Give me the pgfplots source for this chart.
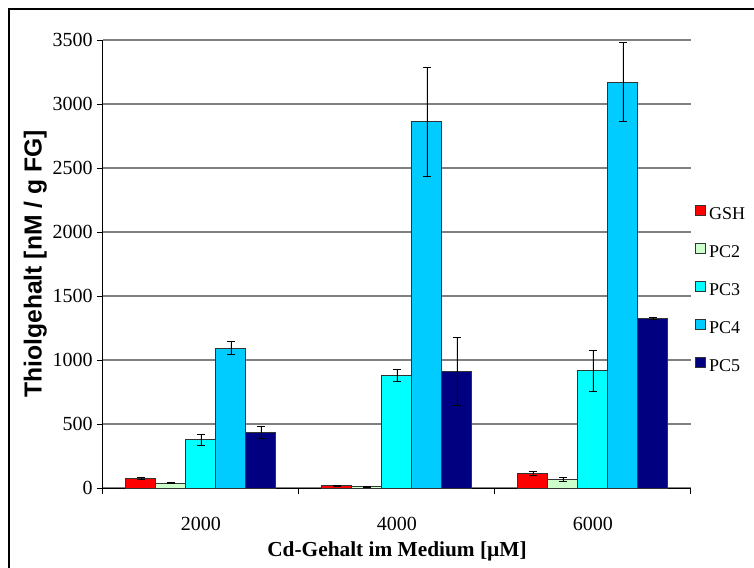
\documentclass[border=0pt]{standalone}
\usepackage{pgfplots}
\pgfplotsset{compat=1.18}
\usepackage{fontspec}
\setmainfont{Liberation Serif}
\setsansfont{Liberation Sans}
\definecolor{cGSH}{RGB}{255,0,0}
\definecolor{cPCa}{RGB}{204,255,204}
\definecolor{cPCb}{RGB}{0,255,255}
\definecolor{cPCc}{RGB}{0,204,255}
\definecolor{cPCd}{RGB}{0,0,128}
\begin{document}
\begin{tikzpicture}
\useasboundingbox (-77.25pt,-60pt) rectangle (488.25pt,366pt);
\fill[white] (-77.25pt,-60pt) rectangle (488.25pt,366pt);
\draw[black, line width=1.4pt] (-70.5pt,359.25pt) rectangle (520pt,-90pt);
\begin{axis}[
  at={(0pt,0pt)}, anchor=south west,
  scale only axis, width=441pt, height=336pt,
  ybar=0pt, bar width=22.5pt,
  xmin=-0.5, xmax=2.5, ymin=0, ymax=3500,
  ytick={0,500,...,3500},
  xtick={-0.5,0.5,1.5,2.5}, xticklabels={},
  extra x ticks={0,1,2}, extra x tick labels={2000,4000,6000},
  extra x tick style={major tick length=0pt, xticklabel style={anchor=center, yshift=-27pt}},
  axis x line*=bottom, axis y line*=left,
  axis line style={black, line width=0.75pt},
  tick align=outside, major tick length=4.5pt,
  tick style={black, line width=0.75pt},
  ymajorgrids=true,
  grid style={draw=gray, line width=0.8pt},
  /pgf/number format/assume math mode=true,
  /pgf/number format/1000 sep={},
  tick label style={font=\fontsize{15}{18}\selectfont},
  yticklabel style={anchor=east, inner sep=0pt, xshift=-3pt},
  xticklabel style={inner sep=0pt},
  xlabel={\bfseries Cd-Gehalt im Medium [µM]},
  xlabel style={at={(axis description cs:0.5,-0.1405)}, anchor=center, font=\fontsize{16}{19}\selectfont, inner sep=0pt},
  ylabel={\sffamily\bfseries Thiolgehalt [nM / g FG]},
  ylabel style={at={(axis description cs:-0.1150,0.5)}, anchor=center, font=\fontsize{18.5}{22}\selectfont, inner sep=0pt},
  legend style={at={(axis description cs:1.0068,0.6317)}, anchor=north west, draw=none, fill=none,
    inner sep=0pt, row sep=15pt, font=\fontsize{13.5}{16}\selectfont,
    nodes={inner sep=0pt, text height=9pt, text depth=3pt},
    /tikz/every odd column/.append style={column sep=2.25pt}},
  legend cell align=left,
  legend image code/.code={\draw[#1, line width=0.6pt] (0pt,-0.3pt) rectangle (7.5pt,7.2pt);},
  error bars/y dir=both, error bars/y explicit,
  error bars/error bar style={black, line width=0.7pt},
  error bars/error mark options={rotate=90, mark size=3pt, black, line width=0.7pt},
]
\addplot[fill=cGSH, draw=black!80, line width=0.75pt] coordinates {(0,73) +- (0,9) (1,18) +- (0,4) (2,115) +- (0,15)};
\addplot[fill=cPCa, draw=black!80, line width=0.75pt] coordinates {(0,39) +- (0,5) (1,10) +- (0,3) (2,65) +- (0,16)};
\addplot[fill=cPCb, draw=black!80, line width=0.75pt] coordinates {(0,376) +- (0,40) (1,877) +- (0,48) (2,918) +- (0,160)};
\addplot[fill=cPCc, draw=black!80, line width=0.75pt] coordinates {(0,1091) +- (0,50) (1,2862) +- (0,425) (2,3170) +- (0,310)};
\addplot[fill=cPCd, draw=black!80, line width=0.75pt] coordinates {(0,434) +- (0,47) (1,913) +- (0,265) (2,1324) +- (0,5)};
\legend{GSH,PC2,PC3,PC4,PC5}
\end{axis}
\end{tikzpicture}
\end{document}
